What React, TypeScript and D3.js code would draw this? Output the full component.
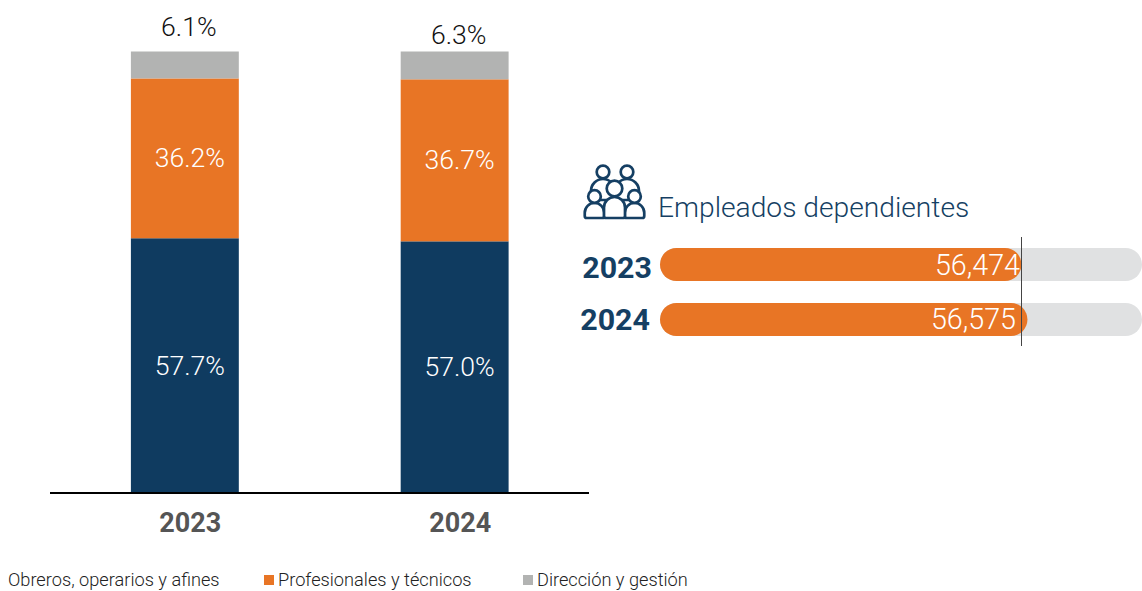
import React from "react";
import * as d3 from "d3";

const years = ["2023", "2024"];
const seriesNames = ["Obreros, operarios y afines", "Profesionales y técnicos", "Dirección y gestión"];
const obreros = [57.7, 57.0];
const profesionales = [36.2, 36.7];
const direccion = [6.1, 6.3];
const empleados = [56474, 56575];
const colors = ["#0f3b60", "#e87525", "#b2b3b2"];
const labelColors = ["#ffffff", "#ffffff", "#111111"];

const NAVY = "#153f63";
const FONT = "Roboto, sans-serif";

function PersonIcon({ cx, headY, headR, bodyW, bodyTop, bottom }: any) {
  const l = cx - bodyW / 2;
  const r = cx + bodyW / 2;
  const k = bodyW / 2;
  return (
    <g>
      <path d={`M${l + 2} ${bottom} Q${l} ${bottom} ${l} ${bottom - 2} V${bodyTop + k} A${k} ${k} 0 0 1 ${r} ${bodyTop + k} V${bottom - 2} Q${r} ${bottom} ${r - 2} ${bottom} Z`} />
      <circle cx={cx} cy={headY} r={headR} />
    </g>
  );
}

export default function App() {
  const x = d3.scaleBand().domain(years).range([50.5, 589]).paddingInner(0.6).paddingOuter(0.298);
  const y = d3.scaleLinear().domain([0, 100]).range([493, 51.5]);
  const stack = d3.stack<any>().keys(["0", "1", "2"])(
    years.map((_, i) => ({ "0": obreros[i], "1": profesionales[i], "2": direccion[i] }))
  );
  const px = d3.scaleLinear().domain([50400, 58500]).range([660, 1142]);
  const py = d3.scaleBand().domain(years).range([248, 336]).paddingInner(0.4).paddingOuter(0);
  const h = py.bandwidth();
  const yearX = [652, 650];
  const yearDy = [30, 27];
  const valueX = [1020, 1016];
  const valueDy = [27, 26];

  const legendX = [8, 278, 537];
  const swatchX = [null, 264, 523];

  return (
    <svg width={1142} height={591} style={{ position: "absolute", left: 0, top: 0, fontFamily: FONT }}>
      {stack.map((s, si) =>
        s.map((d, i) => {
          const bx = x(years[i])!;
          const mid = (y(d[0]) + y(d[1])) / 2;
          return (
            <g key={`${si}-${i}`}>
              <rect x={bx} y={y(d[1])} width={x.bandwidth()} height={y(d[0]) - y(d[1])} fill={colors[si]} />
              <text
                x={bx + x.bandwidth() / 2 + (si === 2 ? 4 : 5)}
                y={si === 2 ? y(d[1]) - (i === 0 ? 16 : 8) : mid + 9}
                textAnchor="middle"
                fontSize={26.6}
                fontWeight={300}
                fill={labelColors[si]}
              >
                {`${(d[1] - d[0]).toFixed(1)}%`}
              </text>
            </g>
          );
        })
      )}
      <line x1={50} x2={589} y1={493} y2={493} stroke="#000" strokeWidth={2} />
      {years.map((yr) => (
        <text
          key={yr}
          x={x(yr)! + x.bandwidth() / 2 + 5.5}
          y={532}
          textAnchor="middle"
          fontSize={27}
          fontWeight={700}
          fill="#555555"
        >
          {yr}
        </text>
      ))}
      {seriesNames.map((n, i) => (
        <g key={n}>
          {swatchX[i] !== null && <rect x={swatchX[i]!} y={575} width={10} height={10} fill={colors[i]} />}
          <text x={legendX[i]} y={585.5} fontSize={18.2} fontWeight={300} fill="#222222">
            {n}
          </text>
        </g>
      ))}

      <g fill="#fff" stroke={NAVY} strokeWidth={2.7} strokeLinejoin="round">
        <PersonIcon cx={603} headY={172} headR={6.3} bodyW={24} bodyTop={179} bottom={200} />
        <PersonIcon cx={627} headY={172} headR={6.3} bodyW={24} bodyTop={179} bottom={200} />
        <PersonIcon cx={594.5} headY={196.5} headR={6.3} bodyW={19.5} bodyTop={203} bottom={218} />
        <PersonIcon cx={634.5} headY={196.5} headR={6.3} bodyW={19.5} bodyTop={203} bottom={218} />
        <PersonIcon cx={614.5} headY={188.5} headR={7.8} bodyW={21} bodyTop={197} bottom={218} />
      </g>
      <text x={658} y={217} fontSize={28.2} fontWeight={300} fill={NAVY}>
        Empleados dependientes
      </text>

      {years.map((yr, i) => (
        <g key={yr}>
          <rect x={660} y={py(yr)} width={482} height={h} rx={h / 2} fill="#e0e1e2" />
          <rect x={660} y={py(yr)} width={px(empleados[i]) - 660} height={h} rx={h / 2} fill={colors[1]} />
          <text x={yearX[i]} y={py(yr)! + yearDy[i]} textAnchor="end" fontSize={30.4} fontWeight={700} fill={NAVY}>
            {yr}
          </text>
          <text x={valueX[i]} y={py(yr)! + valueDy[i]} textAnchor="end" fontSize={28.7} fontWeight={300} fill="#fff">
            {d3.format(",")(empleados[i])}
          </text>
        </g>
      ))}
      <line x1={1021.5} x2={1021.5} y1={237} y2={346} stroke="#444" strokeWidth={1} />
    </svg>
  );
}
